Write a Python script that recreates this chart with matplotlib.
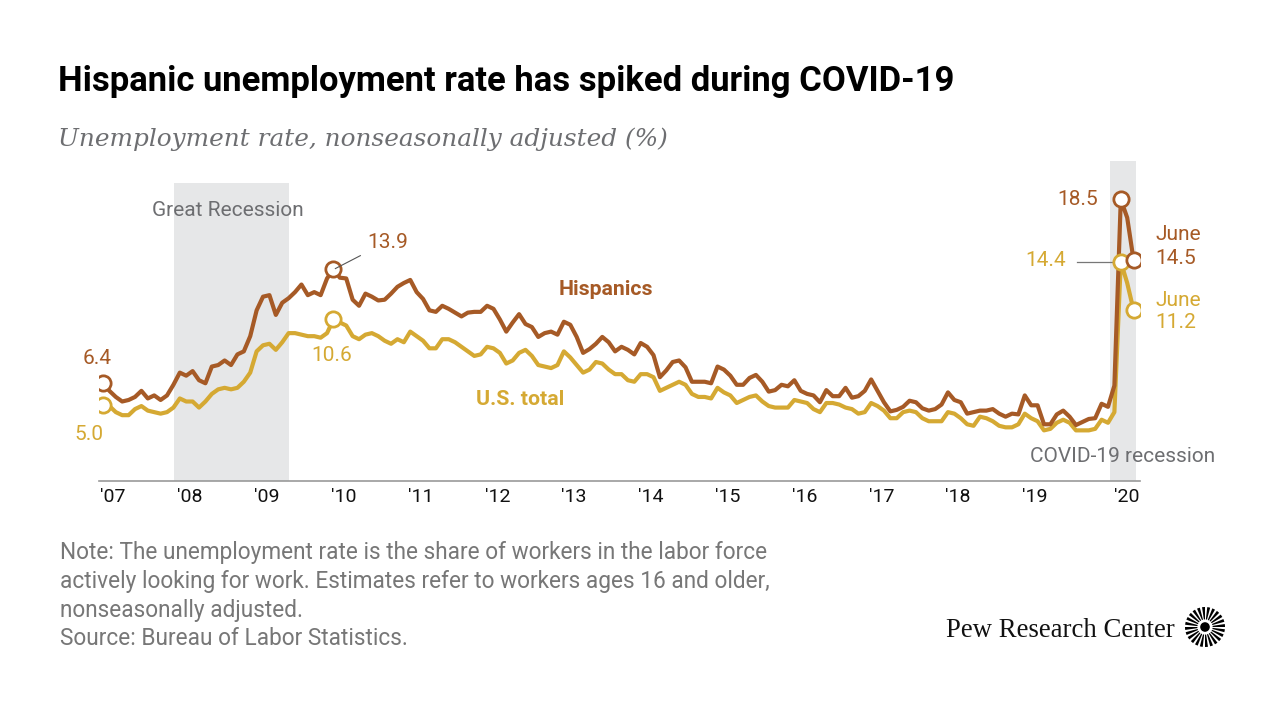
import numpy as np
import matplotlib
matplotlib.use("Agg")
import matplotlib.pyplot as plt
from matplotlib.patches import Wedge, Circle

# monthly values, Jan 2007 - Jun 2020
hispanic = [
    6.4, 5.9, 5.5, 5.2, 5.3, 5.5, 5.9, 5.4, 5.6, 5.3, 5.6, 6.3,
    7.1, 6.9, 7.2, 6.6, 6.4, 7.5, 7.6, 7.9, 7.6, 8.3, 8.5, 9.5,
    11.2, 12.1, 12.2, 10.9, 11.7, 12.0, 12.4, 12.9, 12.2, 12.4, 12.2, 13.3,
    13.9, 13.35, 13.3, 11.9, 11.5, 12.3, 12.1, 11.85, 11.9, 12.3, 12.75, 13.0,
    13.2, 12.4, 11.95, 11.2, 11.1, 11.5, 11.3, 11.05, 10.8, 11.05, 11.1, 11.1,
    11.5, 11.3, 10.6, 9.8, 10.4, 10.95, 10.3, 10.1, 9.45, 9.7, 9.8, 9.6,
    10.45, 10.25, 9.45, 8.4, 8.65, 9.0, 9.45, 9.1, 8.5, 8.8, 8.6, 8.3,
    9.05, 8.8, 8.25, 6.8, 7.25, 7.8, 7.9, 7.45, 6.5, 6.5, 6.5, 6.4,
    7.5, 7.3, 6.9, 6.3, 6.3, 6.75, 6.95, 6.5, 5.85, 5.95, 6.3, 6.2,
    6.6, 5.9, 5.7, 5.6, 5.15, 5.95, 5.55, 5.55, 6.1, 5.45, 5.55, 5.9,
    6.65, 5.9, 5.15, 4.55, 4.65, 4.85, 5.25, 5.15, 4.75, 4.6, 4.7, 5.0,
    5.8, 5.3, 5.15, 4.4, 4.5, 4.6, 4.6, 4.7, 4.4, 4.2, 4.4, 4.35,
    5.6, 4.95, 4.95, 3.7, 3.7, 4.35, 4.6, 4.2, 3.65, 3.85, 4.05, 4.1,
    5.05, 4.85, 6.25, 18.5, 17.3, 14.5,
]
us_total = [
    5.0, 4.9, 4.5, 4.3, 4.3, 4.7, 4.9, 4.6, 4.5, 4.4, 4.5, 4.8,
    5.4, 5.2, 5.2, 4.8, 5.2, 5.7, 6.0, 6.1, 6.0, 6.1, 6.5, 7.1,
    8.5, 8.9, 9.0, 8.6, 9.1, 9.7, 9.7, 9.6, 9.5, 9.5, 9.4, 9.7,
    10.6, 10.4, 10.2, 9.5, 9.3, 9.6, 9.7, 9.5, 9.2, 9.0, 9.3, 9.1,
    9.8, 9.5, 9.2, 8.7, 8.7, 9.3, 9.3, 9.1, 8.8, 8.5, 8.2, 8.3,
    8.8, 8.7, 8.4, 7.7, 7.9, 8.4, 8.6, 8.2, 7.6, 7.5, 7.4, 7.6,
    8.5, 8.1, 7.6, 7.1, 7.3, 7.8, 7.7, 7.3, 7.0, 7.0, 6.6, 6.5,
    7.0, 7.0, 6.8, 5.9, 6.1, 6.3, 6.5, 6.3, 5.7, 5.5, 5.5, 5.4,
    6.1, 5.8, 5.6, 5.1, 5.3, 5.5, 5.6, 5.2, 4.9, 4.8, 4.8, 4.8,
    5.3, 5.2, 5.1, 4.7, 4.5, 5.1, 5.1, 5.0, 4.8, 4.7, 4.4, 4.5,
    5.1, 4.9, 4.6, 4.1, 4.1, 4.5, 4.6, 4.5, 4.1, 3.9, 3.9, 3.9,
    4.5, 4.4, 4.1, 3.7, 3.6, 4.2, 4.1, 3.9, 3.6, 3.5, 3.5, 3.7,
    4.4, 4.1, 3.9, 3.3, 3.4, 3.8, 4.0, 3.8, 3.3, 3.3, 3.3, 3.4,
    4.0, 3.8, 4.5, 14.4, 13.0, 11.2,
]
years = ["'07", "'08", "'09", "'10", "'11", "'12", "'13", "'14",
         "'15", "'16", "'17", "'18", "'19", "'20"]
marked = [0, 36, 159, 161]   # months with circles

BROWN = "#a65a26"
GOLD = "#d5a933"
GRAY = "#6d6e71"

x = np.arange(len(hispanic))
hisp = np.array(hispanic)
us = np.array(us_total)

fig = plt.figure(figsize=(12.8, 7.2), dpi=100)
ax = fig.add_axes([99/1280, 1-480.5/720, 1041/1280, 319.5/720])
ax.set_xlim(-0.625, 162.0)
ax.set_ylim(0, 21.03)

# recessions
ax.axvspan(11.1, 29.05, ymax=19.55/21.03, color="#e6e7e8", lw=0, zorder=0)
ax.axvspan(157.35, 161.4, color="#e6e7e8", lw=0, zorder=0)
ax.text(19.5, 17.75, "Great Recession", color=GRAY, fontsize=15,
        ha="center", va="center", family="Roboto")
ax.text(159.3, 1.6, "COVID-19 recession", color=GRAY, fontsize=15,
        ha="center", va="center", family="Roboto")

ax.plot(x, us, color=GOLD, lw=3, solid_joinstyle="round", zorder=3)
ax.plot(x, hisp, color=BROWN, lw=3, solid_joinstyle="round", zorder=4)
for m in marked:
    ax.plot(x[m], us[m], "o", ms=11, mfc="white", mec=GOLD, mew=2, zorder=5)
    ax.plot(x[m], hisp[m], "o", ms=11, mfc="white", mec=BROWN, mew=2, zorder=6)

lab = dict(fontsize=15, family="Roboto", va="center", clip_on=False)
ax.text(-0.9, 8.05, f"{hisp[0]:.1f}", color=BROWN, ha="center", **lab)
ax.text(-2.2, 3.05, f"{us[0]:.1f}", color=GOLD, ha="center", **lab)
ax.text(44.5, 15.65, f"{hisp[36]:.1f}", color=BROWN, ha="center", **lab)
ax.plot([36.3, 40.2], [13.95, 14.8], color="#555555", lw=0.8, zorder=7)
ax.text(35.8, 8.25, f"{us[36]:.1f}", color=GOLD, ha="center", **lab)
ax.text(155.5, 18.5, f"{hisp[159]:.1f}", color=BROWN, ha="right", **lab)
ax.text(150.5, 14.45, f"{us[159]:.1f}", color=GOLD, ha="right", **lab)
ax.plot([152.2, 157.9], [14.4, 14.4], color="#777777", lw=0.9, zorder=2)
ax.text(164.4, 16.2, "June", color=BROWN, ha="left", **lab)
ax.text(164.4, 14.62, f"{hisp[161]:.1f}", color=BROWN, ha="left", **lab)
ax.text(164.4, 11.85, "June", color=GOLD, ha="left", **lab)
ax.text(164.4, 10.42, f"{us[161]:.1f}", color=GOLD, ha="left", **lab)

ax.text(78.5, 12.6, "Hispanics", color=BROWN, fontsize=15.3, weight="bold",
        ha="center", va="center", family="Roboto")
ax.text(65.2, 5.35, "U.S. total", color=GOLD, fontsize=15.3, weight="bold",
        ha="center", va="center", family="Roboto")

# axis
for s in ["top", "right", "left"]:
    ax.spines[s].set_visible(False)
ax.spines["bottom"].set_color("#999999")
ax.spines["bottom"].set_linewidth(1.2)
ax.set_yticks([])
ax.set_xticks([])
for k, yl in enumerate(years):
    pos = k * 12 - 0.4 if k < len(years) - 1 else 157.9
    ax.text(pos, -1.1, yl, ha="left", va="center", fontsize=14,
            family="Roboto", color="#111111", clip_on=False)

fig.text(58/1280, 1-91/720, "Hispanic unemployment rate has spiked during COVID-19",
         fontsize=24.9, weight="bold", family="Roboto", color="black", va="baseline")
fig.text(58/1280, 1-146/720, "Unemployment rate, nonseasonally adjusted (%)",
         fontsize=17.85, style="italic", family="DejaVu Serif", color=GRAY, va="baseline")

note = ("Note: The unemployment rate is the share of workers in the labor force\n"
        "actively looking for work. Estimates refer to workers ages 16 and older,\n"
        "nonseasonally adjusted.\n"
        "Source: Bureau of Labor Statistics.")
fig.text(60/1280, 1-541/720, note, fontsize=16.3, family="Roboto", color="#777777",
         va="top", linespacing=1.32)

fig.text(946/1280, 1-637/720, "Pew Research Center", fontsize=19.3,
         family="Liberation Serif", color="#111111", va="baseline")

# logo
lx = fig.add_axes([1185/1280, 1-647/720, 40/1280, 40/720])
lx.set_xlim(-1, 1)
lx.set_ylim(-1, 1)
lx.set_aspect("equal")
lx.axis("off")
for a in np.arange(0, 360, 15):
    lx.add_patch(Wedge((0, 0), 1.0, a, a + 8.5, width=0.62, color="black", lw=0))
lx.add_patch(Circle((0, 0), 0.24, color="black", lw=0))

fig.savefig("out.png", dpi=100)
